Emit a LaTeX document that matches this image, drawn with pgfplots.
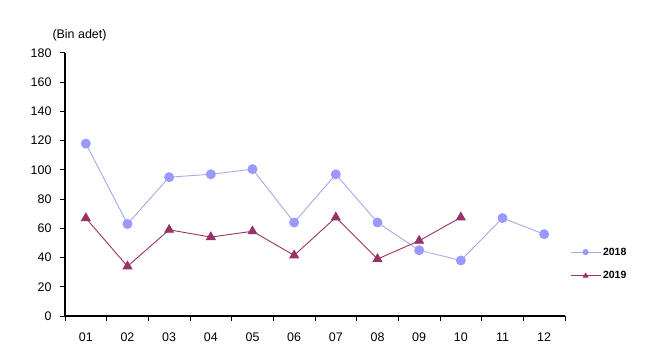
\documentclass[border=0pt]{standalone}
\usepackage{fontspec}
\setmainfont{Liberation Sans}
\usepackage{pgfplots}
\pgfplotsset{compat=1.18}
\definecolor{c18}{HTML}{9999FF}
\definecolor{c18l}{HTML}{A8A8E8}
\definecolor{c19}{HTML}{993366}
\begin{document}
\begin{tikzpicture}
\useasboundingbox (0,0) rectangle (650bp,360bp);
\begin{axis}[
  at={(65bp,44bp)}, anchor=south west,
  scale only axis, width=500bp, height=263bp,
  xmin=0.5, xmax=12.5, ymin=0, ymax=180,
  axis x line*=bottom, axis y line*=left,
  axis line style={line width=1.3pt, black},
  xtick={1,...,12},
  xticklabels={01,02,03,04,05,06,07,08,09,10,11,12},
  major x tick style={draw=none},
  minor xtick={0.5,1.5,...,12.5},
  minor x tick style={black, line width=1pt},
  ytick={0,20,...,180},
  y tick style={black, line width=1pt},
  tick align=outside,
  major tick length=5bp, minor tick length=5bp,
  /pgf/number format/assume math mode=true,
  tick label style={font=\fontsize{12.5}{15}\selectfont},
  xticklabel style={yshift=-8bp},
  yticklabel style={xshift=-5bp},
  clip=false,
  legend cell align=left,
  legend style={at={(1.01,0.268)}, anchor=north west, draw=none, fill=none,
    font=\bfseries\fontsize{10.5}{12}\selectfont, row sep=11bp, inner sep=0pt},
  legend image code/.code={
    \draw[#1, mark=none] (0bp,0bp) -- (30bp,0bp);
    \draw[#1, only marks, mark size=2.6bp] plot coordinates {(15bp,0bp)};
  },
]
\addplot[c18l, line width=0.9pt, mark=*, mark size=4.5bp,
  mark options={draw=c18, fill=c18}] coordinates {
(1,118) (2,63) (3,95) (4,97) (5,100.5) (6,64) (7,97) (8,64) (9,45) (10,38) (11,67) (12,56)};
\addlegendentry{2018}
\addplot[c19, line width=0.9pt, mark=triangle*, mark size=5bp,
  mark options={draw=c19, fill=c19}] coordinates {
(1,67) (2,34) (3,59) (4,54) (5,58) (6,41.5) (7,67.5) (8,39) (9,51.5) (10,67.5)};
\addlegendentry{2019}
\node[anchor=base west, font=\fontsize{12.5}{15}\selectfont] at (rel axis cs:-0.032,1.056) {(Bin adet)};
\end{axis}
\end{tikzpicture}
\end{document}
